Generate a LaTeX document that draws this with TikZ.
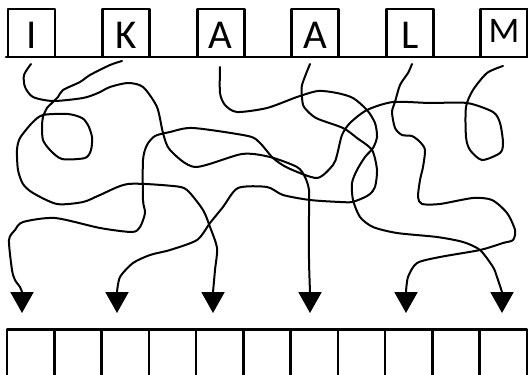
\documentclass[tikz,border=0pt]{standalone}
\usepackage{fontspec}
\newfontfamily\boxfont{Carlito}
\usetikzlibrary{arrows.meta}
\begin{document}
\begin{tikzpicture}[x=0.5pt,y=-0.5pt,line join=round,line cap=round,
  lbox/.style={draw,line width=1.3pt,minimum width=23.5pt,minimum height=24pt,inner sep=0pt,
    font=\boxfont\fontsize{20.5}{24}\selectfont,text height=15pt,text depth=0pt},
  cell/.style={draw,line width=1.3pt,minimum width=23.63pt,minimum height=30pt,inner sep=0pt,anchor=north},
  wire/.style={line width=1pt,-{Triangle[width=11.5pt,length=10.5pt]}},
  sm/.style={smooth,tension=0.45}]
\useasboundingbox (0,0) rectangle (528,374);
% top boxes
\node[lbox] (bI) at (31.5,33) {I};
\node[lbox] (bK) at (126,33) {K};
\node[lbox] (bA1) at (220.7,33) {A};
\node[lbox] (bA2) at (315.2,33) {A};
\node[lbox] (bL) at (409.8,33) {L};
\node[lbox,font=\boxfont\fontsize{18}{22}\selectfont,text height=10pt] (bM) at (504,33) {M};
\draw[line width=1.3pt] (6,57) -- (528,57);
% bottom cells
\foreach \k in {0,...,10}{
  \node[cell] (c\k) at ({7+47.27*(\k+0.5)},328) {};
}
% arrow tips
\coordinate (t1) at (22,313);
\coordinate (t2) at (117,313);
\coordinate (t3) at (213,313);
\coordinate (t4) at (310,313);
\coordinate (t5) at (406,313);
\coordinate (t6) at (502,313);
% curve from I
\draw[wire] plot[sm] coordinates {(31,64) (24,75) (25,87) (33,97) (53,101) (83,98) (98,93) (110,87) (128,83) (143,87) (157,107) (163,133) (170,150) (195,167) (242,154) (270,157) (297,167) (305,177) (309,190) (309,210) (309,260) (310,292)} -- (t4);
% curve from K
\draw[wire] plot[sm] coordinates {(122,61) (110,65) (90,75) (80,82) (63,90) (58,97) (53,102) (47,108) (43,117) (42,127) (43,140) (50,150) (62,159) (85,158) (91,150) (92,137) (88,125) (82,118) (68,114) (43,115) (32,123) (20,138) (17,150) (18,170) (23,184) (33,193) (57,204) (83,202) (100,195) (128,184) (173,186) (187,190) (203,210) (210,227) (217,248) (215,270) (213,292)} -- (t3);
% curve from first A
\draw[wire] plot[sm] coordinates {(220,67) (220,93) (225,105) (237,112) (267,108) (297,97) (318,91) (337,93) (353,98) (367,110) (375,123) (377,137) (373,148) (365,157) (357,170) (352,183) (353,200) (360,217) (373,227) (397,233) (437,237) (463,242) (480,250) (493,267) (497,277) (502,292)} -- (t6);
% curve from second A
\draw[wire] plot[sm] coordinates {(310,64) (302,85) (302,97) (304,107) (316,118) (343,128) (357,138) (372,150) (377,170) (375,187) (370,194) (363,198) (352,202) (340,202) (310,200) (283,195) (267,187) (238,188) (223,207) (210,223) (197,240) (170,250) (150,255) (133,263) (120,277) (117,292)} -- (t2);
% curve from L
\draw[wire] plot[sm] coordinates {(412,64) (408,73) (400,85) (395,102) (392,112) (395,128) (402,135) (412,136) (420,142) (425,150) (423,167) (420,180) (418,197) (422,204) (440,204) (473,198) (492,200) (507,213) (515,230) (513,240) (503,243) (480,250) (440,257) (417,263) (408,277) (406,292)} -- (t5);
% curve from M
\draw[wire] plot[sm] coordinates {(503,66) (487,73) (473,90) (466,107) (466,137) (470,150) (482,160) (500,153) (503,143) (500,123) (493,112) (467,103) (430,103) (393,102) (367,110) (350,123) (342,135) (337,155) (333,165) (317,178) (288,168) (273,158) (260,143) (248,136) (193,128) (170,132) (155,136) (147,145) (143,160) (143,200) (145,213) (140,227) (132,232) (100,228) (55,218) (23,222) (15,230) (9,240) (12,270) (15,280) (20,287) (22,292)} -- (t1);
\end{tikzpicture}
\end{document}
